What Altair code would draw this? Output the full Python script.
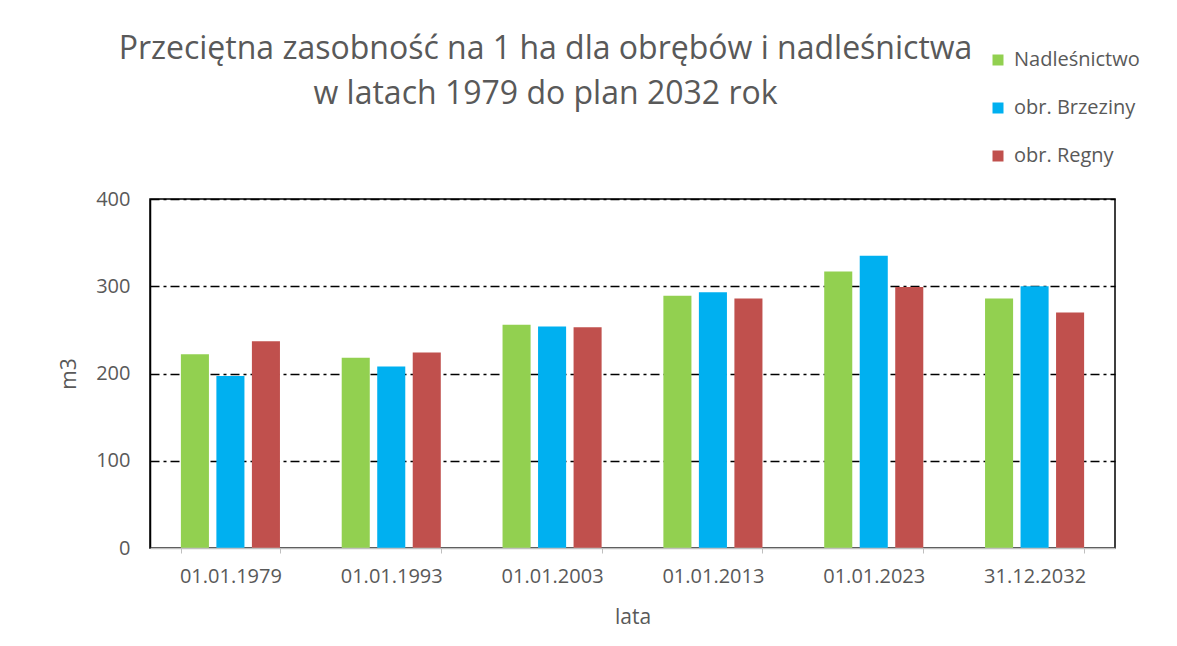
import altair as alt
import pandas as pd

categories = ["01.01.1979", "01.01.1993", "01.01.2003", "01.01.2013", "01.01.2023", "31.12.2032"]
series = ["Nadleśnictwo", "obr. Brzeziny", "obr. Regny"]
nadlesnictwo = [222, 218, 256, 289, 317, 286]
brzeziny = [197, 208, 254, 293, 335, 300]
regny = [237, 224, 253, 286, 299, 270]
colors = ["#92D050", "#00B0F0", "#C0504D"]
y_ticks = [0, 100, 200, 300, 400]

rows = []
for name, vals in zip(series, [nadlesnictwo, brzeziny, regny]):
    for c, v in zip(categories, vals):
        rows.append({"lata": c, "seria": name, "m3": v})
df = pd.DataFrame(rows)

TXT = "#595959"
FONT = "Open Sans"

chart = alt.Chart(df).mark_bar().encode(
    x=alt.X("lata:N", sort=categories,
            scale=alt.Scale(paddingInner=0.384, paddingOuter=0.192),
            axis=alt.Axis(title="lata", labelAngle=0, labelFontSize=20, labelColor=TXT,
                          labelPadding=13, titleFontSize=21, titleColor=TXT, titleFontWeight="normal",
                          titlePadding=20, domainColor="#BFBFBF", domainWidth=1.5,
                          tickColor="#BFBFBF", tickSize=5, tickBand="extent", zindex=1)),
    xOffset=alt.XOffset("seria:N", sort=series, scale=alt.Scale(paddingInner=0.21, paddingOuter=0)),
    y=alt.Y("m3:Q", scale=alt.Scale(domain=[0, 400], nice=False),
            axis=alt.Axis(title="m3", values=y_ticks, labelFontSize=20, labelColor=TXT,
                          labelPadding=20, ticks=False, titleFontSize=21, titleColor=TXT,
                          titleFontWeight="normal", titlePadding=16,
                          domainColor="black", domainWidth=1.5,
                          gridColor="black", gridWidth=1.5, gridDash=[9, 4, 3, 4],
                          gridOpacity={"condition": {"test": "datum.value === 0", "value": 0}, "value": 1})),
    color=alt.Color("seria:N", sort=series,
                    scale=alt.Scale(domain=series, range=colors),
                    legend=alt.Legend(title=None, orient="none", legendX=838, legendY=-149,
                                      symbolType="square", symbolSize=121, symbolStrokeWidth=0,
                                      labelFontSize=20, labelColor=TXT, labelFont=FONT,
                                      rowPadding=28, labelOffset=6)),
).properties(
    width=965, height=349,
    title=alt.Title(["Przeciętna zasobność na 1 ha dla obrębów i nadleśnictwa",
                     "w latach 1979 do plan 2032 rok"],
                    fontSize=32, font=FONT, fontWeight="normal", color=TXT,
                    anchor="middle", dx=-87, dy=61, offset=0, lineHeight=45),
    autosize=alt.AutoSizeParams(type="none"),
    padding={"left": 142, "top": 191, "right": 54, "bottom": 90},
).configure(
    font=FONT,
    background="white",
).configure_view(
    stroke="black", strokeWidth=1.5,
)

chart.save("out.html", embed_options={"renderer": "svg", "actions": False})
